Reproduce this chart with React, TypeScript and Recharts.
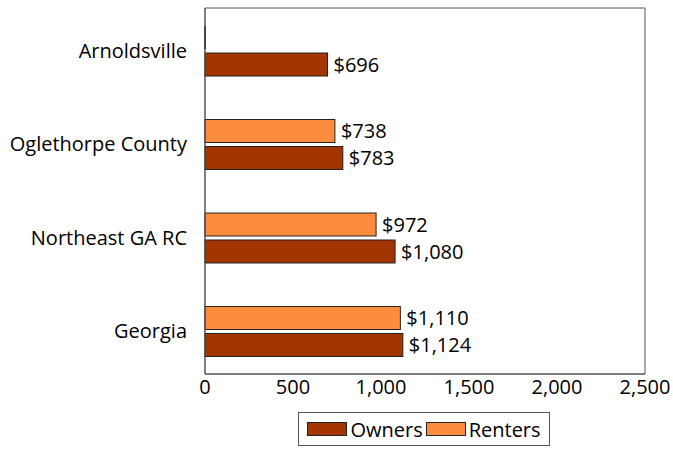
import { BarChart, Bar, XAxis, YAxis, LabelList, ReferenceArea } from "recharts";

const places = ["Arnoldsville", "Oglethorpe County", "Northeast GA RC", "Georgia"];
const owners = [696, 783, 1080, 1124];
const renters = [0, 738, 972, 1110];
const xTicks = [0, 500, 1000, 1500, 2000, 2500];

const OWNER_COLOR = "#a33500";
const RENTER_COLOR = "#fd8d3c";
const FONT = "'Open Sans', 'Liberation Sans', sans-serif";
const FS = 20;

const data = places.map((place, i) => ({ place, owners: owners[i], renters: renters[i] }));

const money = (v: any) => (v ? `$${Number(v).toLocaleString("en-US")}` : "");

// zero-width bars still get a hairline, like the original
const BarShape = (props: any) => {
  const { x, y, width, height, fill } = props;
  if (!width) {
    return <line x1={x} x2={x} y1={y} y2={y + height} stroke="#111" strokeWidth={1.5} />;
  }
  return <rect x={x} y={y} width={width} height={height} fill={fill} stroke="#222" strokeWidth={1} />;
};

function Swatch({ color }: { color: string }) {
  return (
    <span
      style={{
        display: "inline-block",
        width: 38,
        height: 12,
        background: color,
        border: "1px solid #222",
        marginRight: 3,
        verticalAlign: "middle",
      }}
    />
  );
}

export default function App() {
  return (
    <div style={{ position: "absolute", left: 0, top: 0, width: 673, height: 449, background: "#fff", fontFamily: FONT }}>
      <BarChart
        width={673}
        height={449}
        data={data}
        layout="vertical"
        margin={{ top: 8, right: 28, left: 0, bottom: 45 }}
        barSize={23}
        barGap={4}
      >
        <XAxis
          type="number"
          domain={[0, 2500]}
          ticks={xTicks}
          tickFormatter={(v) => v.toLocaleString("en-US")}
          tick={{ fontSize: FS, fill: "#000", fontFamily: FONT }}
          tickLine={false}
          tickSize={0}
          tickMargin={6}
          axisLine={{ stroke: "#555" }}
          height={30}
        />
        <YAxis
          type="category"
          dataKey="place"
          width={205}
          padding={{ top: -4, bottom: -4 }}
          tick={{ fontSize: FS, fill: "#000", fontFamily: FONT }}
          tickLine={false}
          tickSize={0}
          tickMargin={18}
          axisLine={{ stroke: "#555" }}
        />
        {/* hidden unpadded copy of the category axis, used only for the plot frame */}
        <YAxis yAxisId="frame" type="category" dataKey="place" hide />
        <ReferenceArea
          yAxisId="frame"
          x1={0}
          x2={2500}
          y1={places[0]}
          y2={places[places.length - 1]}
          fill="none"
          stroke="#555"
          strokeWidth={1}
          ifOverflow="visible"
        />
        <Bar dataKey="renters" fill={RENTER_COLOR} shape={BarShape} isAnimationActive={false}>
          <LabelList dataKey="renters" position="right" formatter={money} offset={6} style={{ fontSize: FS, fill: "#000", fontFamily: FONT }} />
        </Bar>
        <Bar dataKey="owners" fill={OWNER_COLOR} shape={BarShape} isAnimationActive={false}>
          <LabelList dataKey="owners" position="right" formatter={money} offset={6} style={{ fontSize: FS, fill: "#000", fontFamily: FONT }} />
        </Bar>
      </BarChart>
      <div
        style={{
          position: "absolute",
          left: 298,
          top: 412,
          width: 252,
          height: 34,
          border: "1px solid #555",
          boxSizing: "border-box",
          display: "flex",
          alignItems: "center",
          justifyContent: "center",
          fontSize: FS,
          color: "#000",
          whiteSpace: "nowrap",
        }}
      >
        <Swatch color={OWNER_COLOR} />
        <span style={{ marginRight: 3 }}>Owners</span>
        <Swatch color={RENTER_COLOR} />
        <span>Renters</span>
      </div>
    </div>
  );
}
